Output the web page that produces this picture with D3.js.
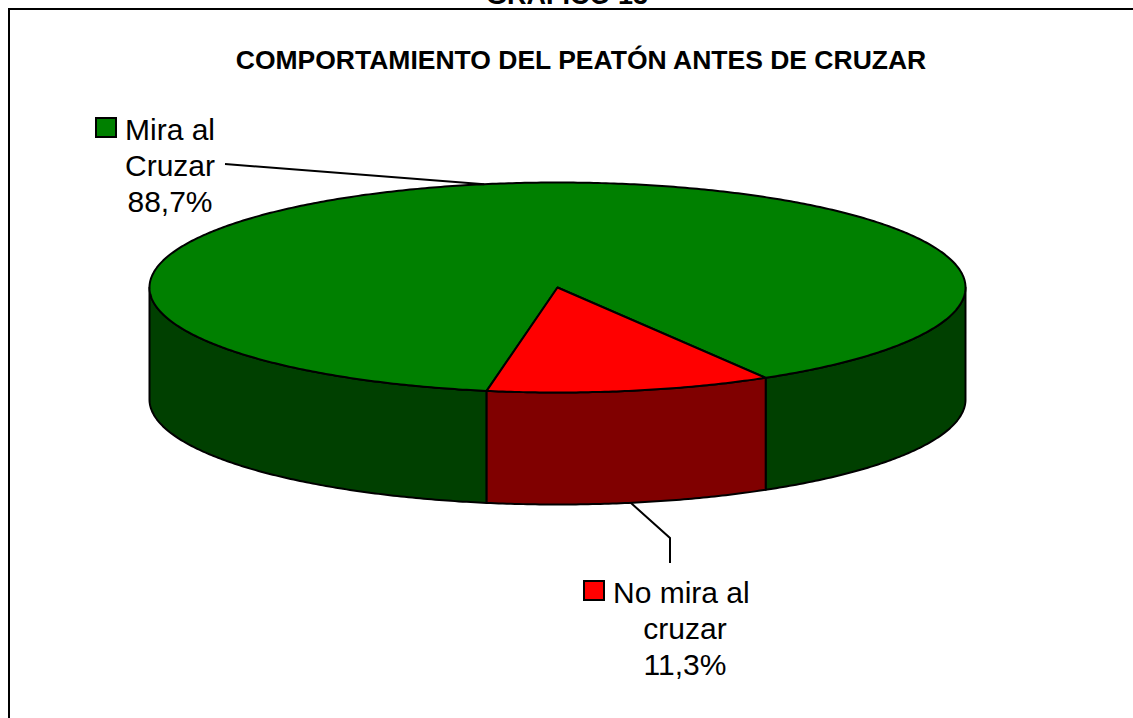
<!DOCTYPE html>
<html>
<head>
<meta charset="utf-8">
<script src="https://cdn.jsdelivr.net/npm/d3@7"></script>
<style>
  body { margin: 0; background: #fff; }
  svg { display: block; font-family: Arial, "Liberation Sans", sans-serif; }
</style>
</head>
<body>
<div id="vis"></div>
<script>
// data
const categories = ["Mira al Cruzar", "No mira al cruzar"];
const values = [88.7, 11.3];
const labelLines = [["Mira al", "Cruzar", "88,7%"], ["No mira al", "cruzar", "11,3%"]];
const topColors = ["#008000", "#FF0000"];
const sideColors = ["#004000", "#800000"];

const FRAME_WIDTH = 1133;
const FRAME_HEIGHT = 718;

// pie geometry (ellipse seen in perspective)
const CX = 557.5, CY = 287.5, RX = 408, RY = 105, DEPTH = 112;
const START = 190 * Math.PI / 180;

const svg = d3.select("#vis")
  .append("svg")
    .attr("width", FRAME_WIDTH)
    .attr("height", FRAME_HEIGHT);

// outer frame (only top and left show)
svg.append("path")
  .attr("d", "M9,718 L9,9 L1133,9")
  .attr("fill", "none")
  .attr("stroke", "#000")
  .attr("stroke-width", 2);

// heading above the frame, cut off at the top like in the original
svg.append("text")
  .attr("x", 567).attr("y", 4)
  .attr("text-anchor", "middle")
  .attr("font-size", 27).attr("font-weight", "bold")
  .text("GRAFICO 13");

svg.append("text")
  .attr("x", 581).attr("y", 69)
  .attr("text-anchor", "middle")
  .attr("font-size", 26.5).attr("font-weight", "bold")
  .text("COMPORTAMIENTO DEL PEATÓN ANTES DE CRUZAR");

const pie = d3.pie().sort(null).startAngle(START).endAngle(START + 2 * Math.PI);
const arcs = pie(values);

// angle -> point on the ellipse (clockwise from 12 o'clock)
const px = (a) => CX + RX * Math.sin(a);
const py = (a, dz) => CY - RY * Math.cos(a) + (dz || 0);

function arcPoints(a0, a1, dz) {
  const n = Math.max(2, Math.ceil(Math.abs(a1 - a0) / 0.01));
  return d3.range(n + 1).map(i => {
    const a = a0 + (a1 - a0) * i / n;
    return [px(a), py(a, dz)];
  });
}

const line = d3.line();

// side pieces: only the front half (pie angle 90..270 deg) is visible
const sides = [];
arcs.forEach((d, i) => {
  for (let k = -1; k <= 2; k++) {
    const lo = Math.PI / 2 + k * 2 * Math.PI, hi = 3 * Math.PI / 2 + k * 2 * Math.PI;
    const a0 = Math.max(d.startAngle, lo), a1 = Math.min(d.endAngle, hi);
    if (a1 > a0) sides.push({ i: i, a0: a0, a1: a1 });
  }
});

svg.selectAll(".side")
  .data(sides)
  .enter()
  .append("path")
    .attr("class", "side")
    .attr("d", s => {
      const top = arcPoints(s.a0, s.a1, 0);
      const bot = arcPoints(s.a1, s.a0, DEPTH);
      return line(top.concat(bot)) + "Z";
    })
    .attr("fill", s => sideColors[s.i])
    .attr("stroke", "#000")
    .attr("stroke-width", 2)
    .attr("stroke-linejoin", "round");

// top faces
svg.selectAll(".slice")
  .data(arcs)
  .enter()
  .append("path")
    .attr("class", "slice")
    .attr("d", d => line([[CX, CY]].concat(arcPoints(d.startAngle, d.endAngle, 0))) + "Z")
    .attr("fill", (d, i) => topColors[i])
    .attr("stroke", "#000")
    .attr("stroke-width", 2)
    .attr("stroke-linejoin", "round");

// leader lines
const mid = arcs.map(d => (d.startAngle + d.endAngle) / 2);
svg.append("path")
  .attr("d", line([[225, 164], [px(mid[0]), py(mid[0], 0)]]))
  .attr("fill", "none").attr("stroke", "#000").attr("stroke-width", 2);
svg.append("path")
  .attr("d", line([[px(mid[1]), py(mid[1], DEPTH)], [670, 538], [670, 563]]))
  .attr("fill", "none").attr("stroke", "#000").attr("stroke-width", 2);

// data labels
const labelPos = [{ x: 170, y: 140, sx: 96, sy: 118 }, { x: 685, y: 603, sx: 584, sy: 581 }];
labelPos.forEach((p, i) => {
  const g = svg.append("g");
  g.append("rect")
    .attr("x", p.sx).attr("y", p.sy)
    .attr("width", 20).attr("height", 19)
    .attr("fill", topColors[i])
    .attr("stroke", "#000").attr("stroke-width", 2);
  labelLines[i].forEach((t, j) => {
    g.append("text")
      .attr("x", j === 0 ? p.sx + 29 : p.x)
      .attr("y", p.y + j * 36)
      .attr("text-anchor", j === 0 ? "start" : "middle")
      .attr("font-size", 30)
      .text(t);
  });
});
</script>
</body>
</html>
